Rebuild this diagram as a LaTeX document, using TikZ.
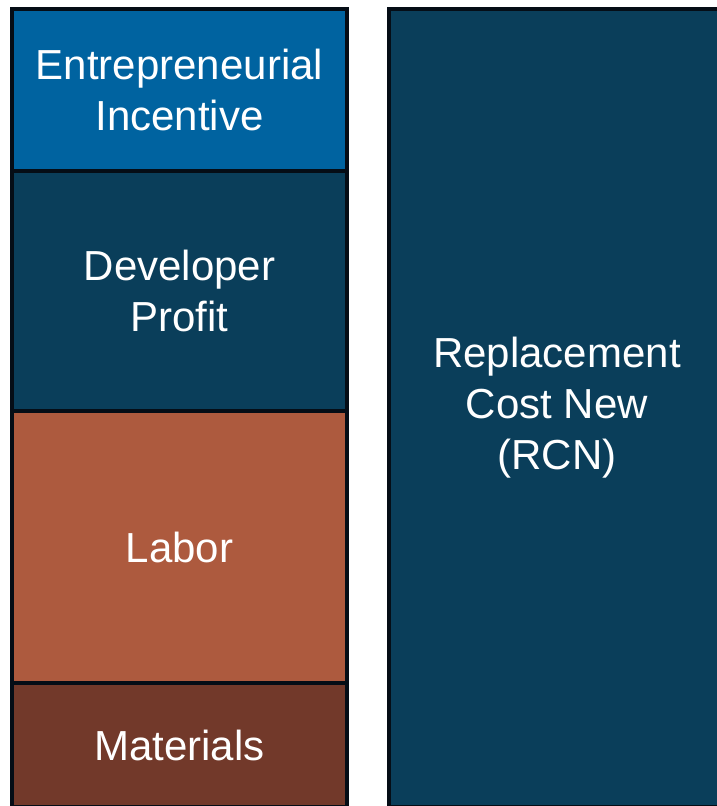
\documentclass[tikz,border=0pt]{standalone}
\usepackage{fontspec}
\setmainfont{Liberation Sans}
\definecolor{incblue}{HTML}{0063A0}
\definecolor{deepteal}{HTML}{0A3E5A}
\definecolor{laborrust}{HTML}{AD5A3E}
\definecolor{matbrown}{HTML}{72392A}
\definecolor{edgeblack}{HTML}{050D16}
\tikzset{
  costbox/.style={rectangle,draw=edgeblack,line width=4pt,text=white,
    align=center,inner sep=0pt,minimum width=335pt,
    font=\fontsize{42}{51}\selectfont}
}

\begin{document}
\begin{tikzpicture}[x=1pt,y=-1pt]
  \useasboundingbox (0,0) rectangle (717,806);
  % left stack, top to bottom
  \node[costbox,fill=incblue,minimum height=162pt] (incentive) at (179.5,90) {Entrepreneurial\\Incentive};
  \node[costbox,fill=deepteal,minimum height=240pt] (profit) at (179.5,291) {Developer\\Profit};
  \node[costbox,fill=laborrust,minimum height=272pt] (labor) at (179.5,547) {Labor};
  \node[costbox,fill=matbrown,minimum height=124pt] (materials) at (179.5,745) {Materials};
  % total on the right
  \node[costbox,fill=deepteal,minimum width=336pt,minimum height=798pt] (rcn) at (557,408) {Replacement\\Cost New\\(RCN)};
\end{tikzpicture}
\end{document}
